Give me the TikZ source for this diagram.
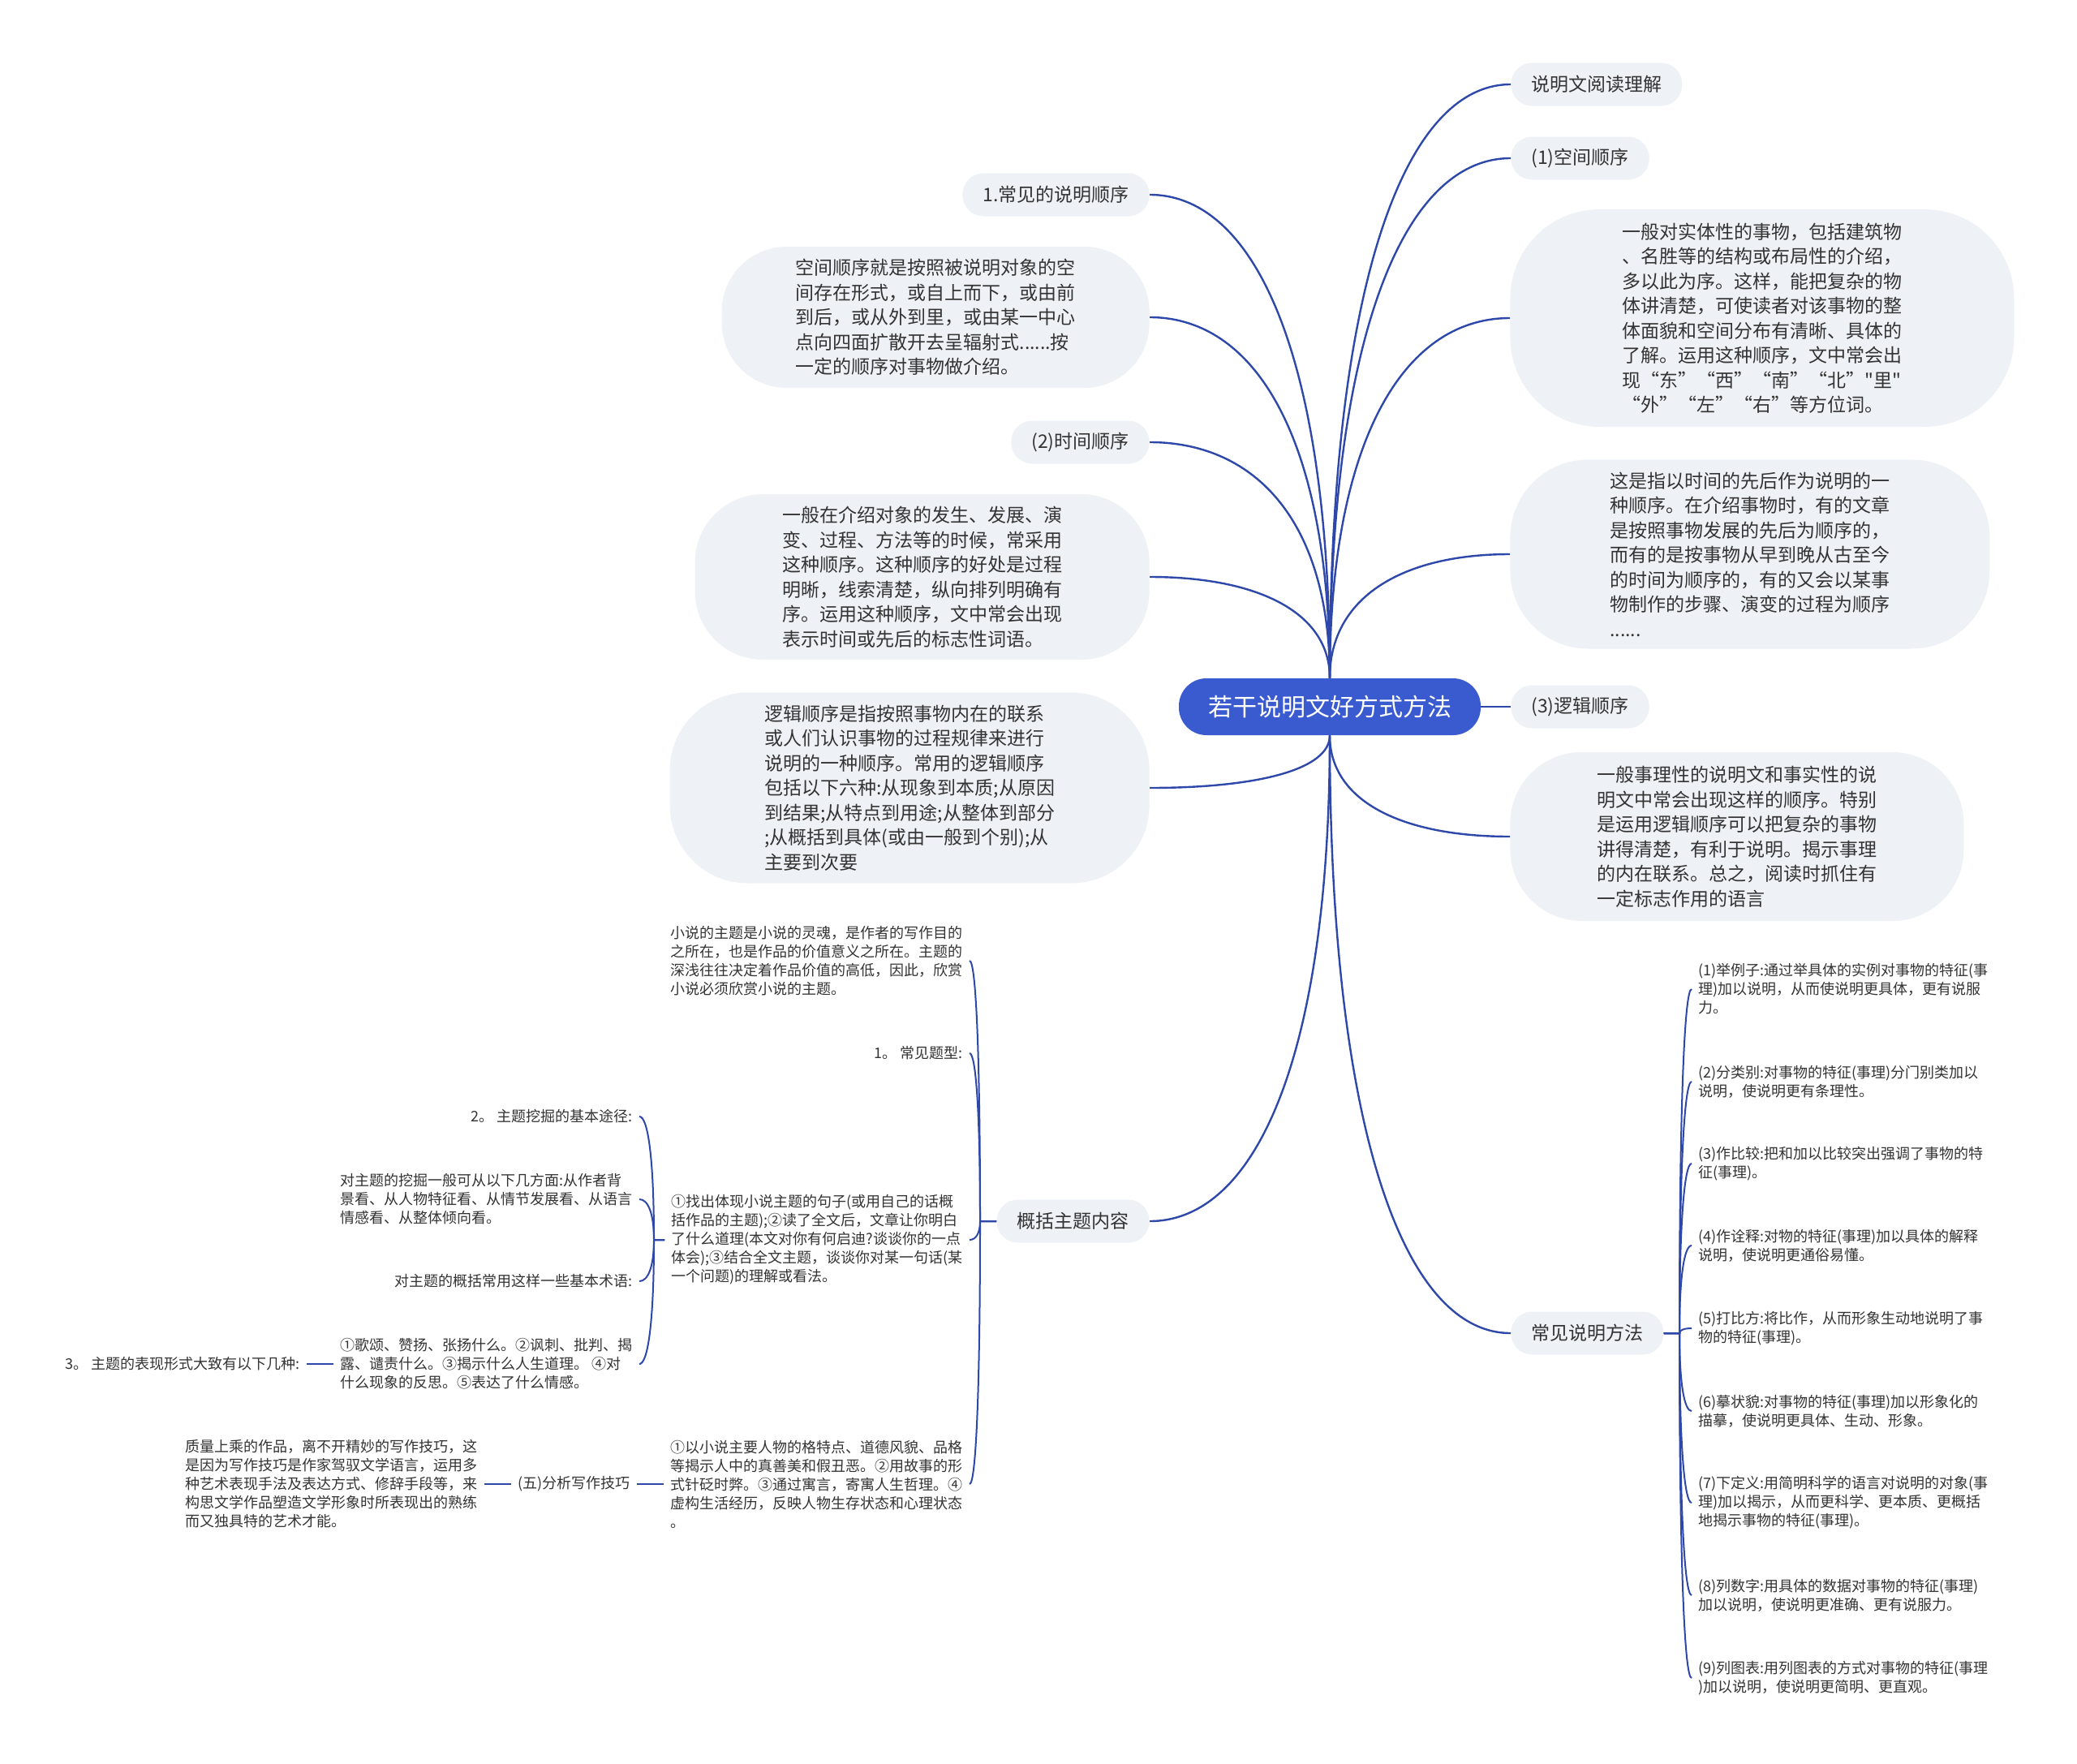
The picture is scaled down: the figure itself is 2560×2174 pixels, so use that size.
\documentclass[tikz,border=0pt]{standalone}
\usepackage{fontspec}
\setmainfont{Noto Sans CJK SC}
\newfontfamily\plainquote{Noto Sans CJK SC}[Ligatures=TeXOff]
\usepackage{xcolor}
\usepackage{tikz}
\usetikzlibrary{positioning,calc}
\definecolor{hubblue}{HTML}{3A5BD0}
\definecolor{wire}{HTML}{2E48AA}
\definecolor{bubble}{HTML}{EEF1F5}
\definecolor{ink}{HTML}{333333}

\begin{document}
\begin{tikzpicture}[
  x=0.5pt,y=-0.5pt,
  node distance=16.5pt,
  hub/.style={fill=hubblue,text=white,rounded corners=17pt,minimum height=35pt,minimum width=186pt,font=\fontsize{15pt}{18pt}\selectfont},
  tag/.style={fill=bubble,text=ink,rounded corners=13pt,minimum height=26.5pt,inner xsep=12.5pt,font=\fontsize{11.5pt}{15.25pt}\selectfont},
  note/.style={fill=bubble,text=ink,rounded corners=#1,align=left,inner sep=0pt,font=\fontsize{11.5pt}{15.25pt}\selectfont},
  note/.default=42pt,
  leaf/.style={text=ink,align=left,inner xsep=4pt,inner ysep=2pt,font=\fontsize{9pt}{11.5pt}\selectfont},
  branch/.style={draw=wire,line width=1.2pt},
  twig/.style={draw=wire,line width=1pt},
  curve/.style={to path={.. controls ($(\tikztostart)!0.65!(\tikztostart |- \tikztotarget)$) and ($(\tikztotarget)!0.6!(\tikztostart |- \tikztotarget)$) .. (\tikztotarget)}}
]
\path[use as bounding box,fill=white] (0,0) rectangle (2560,2174);

\node[hub] (root) at (1639,871) {若干说明文好方式方法};

% right side
\node[tag,anchor=west] (read) at (1862,104) {说明文阅读理解};
\node[tag,anchor=west] (space) at (1862,195) {(1)空间顺序};
\node[note=55pt,anchor=west,minimum width=310.5pt,minimum height=134pt] (spacenote) at (1861,392) {一般对实体性的事物，包括建筑物\\、名胜等的结构或布局性的介绍，\\多以此为序。这样，能把复杂的物\\体讲清楚，可使读者对该事物的整\\体面貌和空间分布有清晰、具体的\\了解。运用这种顺序，文中常会出\\现“东”“西”“南”“北”{\plainquote"里"}\\“外”“左”“右”等方位词。};
\node[note=48pt,anchor=west,minimum width=295.5pt,minimum height=116.5pt] (timenote) at (1861,683) {这是指以时间的先后作为说明的一\\种顺序。在介绍事物时，有的文章\\是按照事物发展的先后为顺序的，\\而有的是按事物从早到晚从古至今\\的时间为顺序的，有的又会以某事\\物制作的步骤、演变的过程为顺序\\......};
\node[tag,anchor=west] (logic) at (1862,871) {(3)逻辑顺序};
\node[note=44pt,anchor=west,minimum width=279.5pt,minimum height=104pt] (logicnote) at (1861,1031) {一般事理性的说明文和事实性的说\\明文中常会出现这样的顺序。特别\\是运用逻辑顺序可以把复杂的事物\\讲得清楚，有利于说明。揭示事理\\的内在联系。总之，阅读时抓住有\\一定标志作用的语言};
\node[tag,anchor=west] (method) at (1862,1643) {常见说明方法};

% left side
\node[tag,anchor=east] (order) at (1417,240) {1.常见的说明顺序};
\node[note=40pt,anchor=east,minimum width=263.5pt,minimum height=87pt] (spacedef) at (1417,391) {空间顺序就是按照被说明对象的空\\间存在形式，或自上而下，或由前\\到后，或从外到里，或由某一中心\\点向四面扩散开去呈辐射式......按\\一定的顺序对事物做介绍。};
\node[tag,anchor=east] (time) at (1417,545) {(2)时间顺序};
\node[note,anchor=east,minimum width=280pt,minimum height=102pt] (timedef) at (1417,711) {一般在介绍对象的发生、发展、演\\变、过程、方法等的时候，常采用\\这种顺序。这种顺序的好处是过程\\明晰，线索清楚，纵向排列明确有\\序。运用这种顺序，文中常会出现\\表示时间或先后的标志性词语。};
\node[note=48pt,anchor=east,minimum width=295.5pt,minimum height=117.5pt] (logicdef) at (1417,971) {逻辑顺序是指按照事物内在的联系\\或人们认识事物的过程规律来进行\\说明的一种顺序。常用的逻辑顺序\\包括以下六种:从现象到本质;从原因\\到结果;从特点到用途;从整体到部分\\;从概括到具体(或由一般到个别);从\\主要到次要};
\node[tag,anchor=east] (theme) at (1417,1505) {概括主题内容};

% theme subtree
\coordinate (themej) at (1208,1505);
\node[leaf,anchor=east] (themeintro) at (1195,1184) {小说的主题是小说的灵魂，是作者的写作目的\\之所在，也是作品的价值意义之所在。主题的\\深浅往往决定着作品价值的高低，因此，欣赏\\小说必须欣赏小说的主题。};
\node[leaf,anchor=east] (themeask) at (1195,1298) {1。 常见题型:};
\node[leaf,anchor=east] (themefind) at (1195,1528) {①找出体现小说主题的句子(或用自己的话概\\括作品的主题);②读了全文后，文章让你明白\\了什么道理(本文对你有何启迪?谈谈你的一点\\体会);③结合全文主题，谈谈你对某一句话(某\\一个问题)的理解或看法。};
\node[leaf,anchor=east] (themeform) at (1195,1829) {①以小说主要人物的格特点、道德风貌、品格\\等揭示人中的真善美和假丑恶。②用故事的形\\式针砭时弊。③通过寓言，寄寓人生哲理。④\\虚构生活经历，反映人物生存状态和心理状态\\。};
\coordinate (findj) at (806,1528);
\node[leaf,anchor=east] (digpath) at (788,1376) {2。 主题挖掘的基本途径:};
\node[leaf,anchor=east] (digways) at (788,1478) {对主题的挖掘一般可从以下几方面:从作者背\\景看、从人物特征看、从情节发展看、从语言\\情感看、从整体倾向看。};
\node[leaf,anchor=east] (sumterm) at (788,1579) {对主题的概括常用这样一些基本术语:};
\node[leaf,anchor=east] (sumlist) at (788,1681) {①歌颂、赞扬、张扬什么。②讽刺、批判、揭\\露、谴责什么。③揭示什么人生道理。 ④对\\什么现象的反思。⑤表达了什么情感。};
\node[leaf,left=of sumlist] (showform) {3。 主题的表现形式大致有以下几种:};
\node[leaf,left=of themeform] (skill) {(五)分析写作技巧};
\node[leaf,left=of skill] (skilltext) {质量上乘的作品，离不开精妙的写作技巧，这\\是因为写作技巧是作家驾驭文学语言，运用多\\种艺术表现手法及表达方式、修辞手段等，来\\构思文学作品塑造文学形象时所表现出的熟练\\而又独具特的艺术才能。};

% method subtree
\coordinate (methodj) at (2070,1643);
\node[leaf,anchor=west] (example) at (2085,1219) {(1)举例子:通过举具体的实例对事物的特征(事\\理)加以说明，从而使说明更具体，更有说服\\力。};
\node[leaf,anchor=west] (classify) at (2085,1333) {(2)分类别:对事物的特征(事理)分门别类加以\\说明，使说明更有条理性。};
\node[leaf,anchor=west] (compare) at (2085,1434) {(3)作比较:把和加以比较突出强调了事物的特\\征(事理)。};
\node[leaf,anchor=west] (explain) at (2085,1535) {(4)作诠释:对物的特征(事理)加以具体的解释\\说明，使说明更通俗易懂。};
\node[leaf,anchor=west] (analogy) at (2085,1637) {(5)打比方:将比作，从而形象生动地说明了事\\物的特征(事理)。};
\node[leaf,anchor=west] (describe) at (2085,1739) {(6)摹状貌:对事物的特征(事理)加以形象化的\\描摹，使说明更具体、生动、形象。};
\node[leaf,anchor=west] (define) at (2085,1852) {(7)下定义:用简明科学的语言对说明的对象(事\\理)加以揭示，从而更科学、更本质、更概括\\地揭示事物的特征(事理)。};
\node[leaf,anchor=west] (numbers) at (2085,1966) {(8)列数字:用具体的数据对事物的特征(事理)\\加以说明，使说明更准确、更有说服力。};
\node[leaf,anchor=west] (chart) at (2085,2068) {(9)列图表:用列图表的方式对事物的特征(事理\\)加以说明，使说明更简明、更直观。};

% main branches
\draw[branch] (root.north) to[curve] (read.west);
\draw[branch] (root.north) to[curve] (space.west);
\draw[branch] (root.north) to[curve] (spacenote.west);
\draw[branch] (root.north) to[curve] (timenote.west);
\draw[branch] (root.east) -- (logic.west);
\draw[branch] (root.south) to[curve] (logicnote.west);
\draw[branch] (root.south) to[curve] (method.west);
\draw[branch] (root.north) to[curve] (order.east);
\draw[branch] (root.north) to[curve] (spacedef.east);
\draw[branch] (root.north) to[curve] (time.east);
\draw[branch] (root.north) to[curve] (timedef.east);
\draw[branch] (root.south) to[curve] (logicdef.east);
\draw[branch] (root.south) to[curve] (theme.east);

% brackets
\draw[twig] (theme.west) -- (themej) to[curve] (themeintro.east);
\draw[twig] (theme.west) -- (themej) to[curve] (themeask.east);
\draw[twig] (theme.west) -- (themej) to[curve] (themefind.east);
\draw[twig] (theme.west) -- (themej) to[curve] (themeform.east);
\draw[twig] (themefind.west) -- (findj) to[curve] (digpath.east);
\draw[twig] (themefind.west) -- (findj) to[curve] (digways.east);
\draw[twig] (themefind.west) -- (findj) to[curve] (sumterm.east);
\draw[twig] (themefind.west) -- (findj) to[curve] (sumlist.east);
\draw[twig] (sumlist) -- (showform);
\draw[twig] (themeform) -- (skill);
\draw[twig] (skill) -- (skilltext);
\draw[twig] (method.east) -- (methodj) to[curve] (example.west);
\draw[twig] (method.east) -- (methodj) to[curve] (classify.west);
\draw[twig] (method.east) -- (methodj) to[curve] (compare.west);
\draw[twig] (method.east) -- (methodj) to[curve] (explain.west);
\draw[twig] (method.east) -- (methodj) to[curve] (analogy.west);
\draw[twig] (method.east) -- (methodj) to[curve] (describe.west);
\draw[twig] (method.east) -- (methodj) to[curve] (define.west);
\draw[twig] (method.east) -- (methodj) to[curve] (numbers.west);
\draw[twig] (method.east) -- (methodj) to[curve] (chart.west);
\end{tikzpicture}
\end{document}
